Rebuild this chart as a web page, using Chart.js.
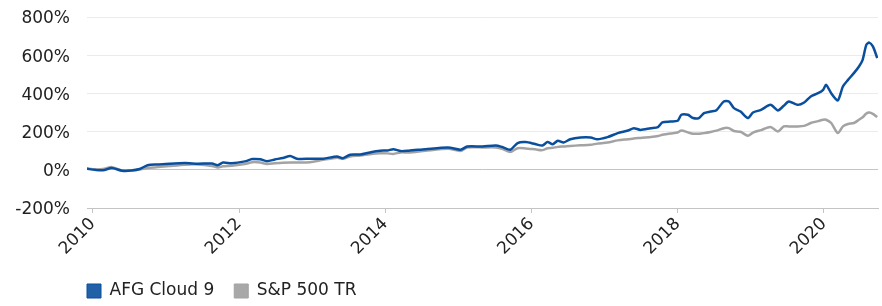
<!DOCTYPE html>
<html>
<head>
<meta charset="utf-8">
<script src="https://cdn.jsdelivr.net/npm/chart.js@4.4.1/dist/chart.umd.min.js"></script>
<style>
    body { margin: 0; background: #fff; }
    #wrap { width: 882px; height: 306px; }
</style>
</head>
<body>
<div id="wrap"><canvas id="perfChart" width="882" height="306"></canvas></div>
<script>
// dates as decimal years
let dates = [2009.92, 2010.03, 2010.14, 2010.26, 2010.40, 2010.53, 2010.64, 2010.75, 2010.89, 2011.05,
    2011.26, 2011.44, 2011.63, 2011.71, 2011.78, 2011.90, 2012.08, 2012.18, 2012.29, 2012.38,
    2012.49, 2012.60, 2012.70, 2012.79, 2012.97, 2013.15, 2013.34, 2013.42, 2013.52, 2013.66,
    2013.79, 2013.93, 2014.03, 2014.11, 2014.21, 2014.32, 2014.55, 2014.86, 2015.03, 2015.12,
    2015.33, 2015.51, 2015.60, 2015.71, 2015.81, 2015.92, 2016.05, 2016.15, 2016.22, 2016.29,
    2016.36, 2016.44, 2016.53, 2016.67, 2016.81, 2016.90, 2017.04, 2017.18, 2017.32, 2017.40,
    2017.49, 2017.63, 2017.73, 2017.79, 2017.90, 2018.00, 2018.05, 2018.14, 2018.21, 2018.29,
    2018.36, 2018.45, 2018.53, 2018.63, 2018.70, 2018.77, 2018.86, 2018.96, 2019.03, 2019.14,
    2019.27, 2019.37, 2019.45, 2019.52, 2019.64, 2019.73, 2019.82, 2019.92, 2019.99, 2020.03,
    2020.10, 2020.19, 2020.26, 2020.33, 2020.41, 2020.48, 2020.53, 2020.58, 2020.62, 2020.67,
    2020.73];

// cumulative return, %
let afgCloud9 = [5, 0, -2, 9, -5, -4, 4, 24, 28, 32,
    35, 32, 33, 24, 38, 34, 44, 56, 55, 45,
    54, 62, 72, 58, 58, 58, 70, 61, 79, 80,
    91, 100, 101, 108, 98, 100, 108, 117, 105, 122,
    122, 127, 119, 105, 140, 145, 135, 127, 145, 134,
    152, 143, 160, 169, 169, 160, 171, 192, 206, 218,
    209, 218, 224, 248, 253, 257, 288, 288, 271, 271,
    297, 305, 312, 358, 358, 323, 305, 271, 300, 314,
    340, 311, 335, 358, 340, 352, 384, 401, 419, 445,
    401, 363, 436, 471, 506, 541, 576, 654, 666, 646,
    585];

let sp500tr = [8, 2, 4, 14, -3, -2, 2, 10, 14, 20,
    27, 28, 20, 12, 18, 21, 30, 40, 38, 30,
    34, 37, 38, 38, 40, 52, 63, 58, 70, 75,
    82, 87, 86, 83, 91, 91, 100, 110, 99, 117,
    117, 117, 110, 93, 113, 112, 107, 103, 113, 115,
    120, 122, 125, 128, 131, 137, 143, 154, 160, 164,
    167, 172, 177, 183, 190, 195, 206, 196, 189, 189,
    192, 198, 205, 218, 218, 203, 199, 178, 195, 208,
    224, 201, 227, 227, 227, 230, 245, 255, 262, 262,
    245, 192, 227, 240, 245, 262, 275, 295, 300, 293,
    276];

let yearTicks = [2010, 2012, 2014, 2016, 2018, 2020];
let seriesNames = ['AFG Cloud 9', 'S&P 500 TR'];

Chart.defaults.font.family = '"DejaVu Sans", Verdana, sans-serif';
Chart.defaults.font.size = 17;
Chart.defaults.color = '#222';

// move the legend under the plot, like the original
const legendPlace = {
    id: 'legendPlace',
    afterLayout: function (chart) {
        let lg = chart.legend;
        let pad = lg.options.labels.padding;
        lg.left = 87 - pad;
        lg.top = 282.5 - pad;
    }
};

var ctx = document.getElementById('perfChart').getContext('2d');
var chart = new Chart(ctx, {
    type: 'line',
    data: {
        datasets: [{
            label: seriesNames[0],
            data: dates.map((d, i) => ({x: d, y: afgCloud9[i]})),
            borderColor: '#0a4f9e',
            backgroundColor: '#2061a8',
            borderWidth: 2.5,
            pointRadius: 0,
            tension: 0.25
        }, {
            label: seriesNames[1],
            data: dates.map((d, i) => ({x: d, y: sp500tr[i]})),
            borderColor: '#a3a3a3',
            backgroundColor: '#a8a8a8',
            borderWidth: 2.5,
            pointRadius: 0,
            tension: 0.25
        }]
    },
    options: {
        responsive: false,
        animation: false,
        events: [],
        layout: {padding: {top: 17, right: 4, left: 0, bottom: 0}},
        plugins: {
            tooltip: {enabled: false},
            legend: {
                position: 'bottom',
                align: 'start',
                maxHeight: 40,
                labels: {
                    boxWidth: 14,
                    boxHeight: 14,
                    padding: 20,
                    color: '#222',
                    font: {size: 17},
                    generateLabels: function (chart) {
                        let items = Chart.defaults.plugins.legend.labels.generateLabels(chart);
                        items.forEach(it => { it.lineWidth = 1; });
                        return items;
                    }
                }
            }
        },
        scales: {
            x: {
                type: 'linear',
                min: 2009.92,
                max: 2020.74,
                afterBuildTicks: function (scale) {
                    scale.ticks = yearTicks.map(v => ({value: v}));
                },
                afterFit: function (scale) {
                    scale.height = 58;
                    scale.paddingLeft = 0;
                    scale.paddingRight = 0;
                },
                ticks: {
                    autoSkip: false,
                    minRotation: 45,
                    maxRotation: 45,
                    padding: 1,
                    callback: v => String(v)
                },
                grid: {
                    drawOnChartArea: false,
                    drawTicks: true,
                    tickLength: 5,
                    color: '#c4c4c4'
                },
                border: {color: '#c4c4c4', width: 1}
            },
            y: {
                min: -200,
                max: 800,
                afterFit: function (scale) {
                    scale.width = 87;
                    scale.paddingTop = 0;
                    scale.paddingBottom = 0;
                },
                ticks: {
                    stepSize: 200,
                    padding: 17,
                    labelOffset: 2,
                    callback: v => v + '%'
                },
                grid: {
                    drawTicks: false,
                    color: c => c.tick && c.tick.value === 0 ? '#c4c4c4' : '#ebebeb',
                    lineWidth: 1
                },
                border: {display: false}
            }
        }
    },
    plugins: [legendPlace]
});
</script>
</body>
</html>
